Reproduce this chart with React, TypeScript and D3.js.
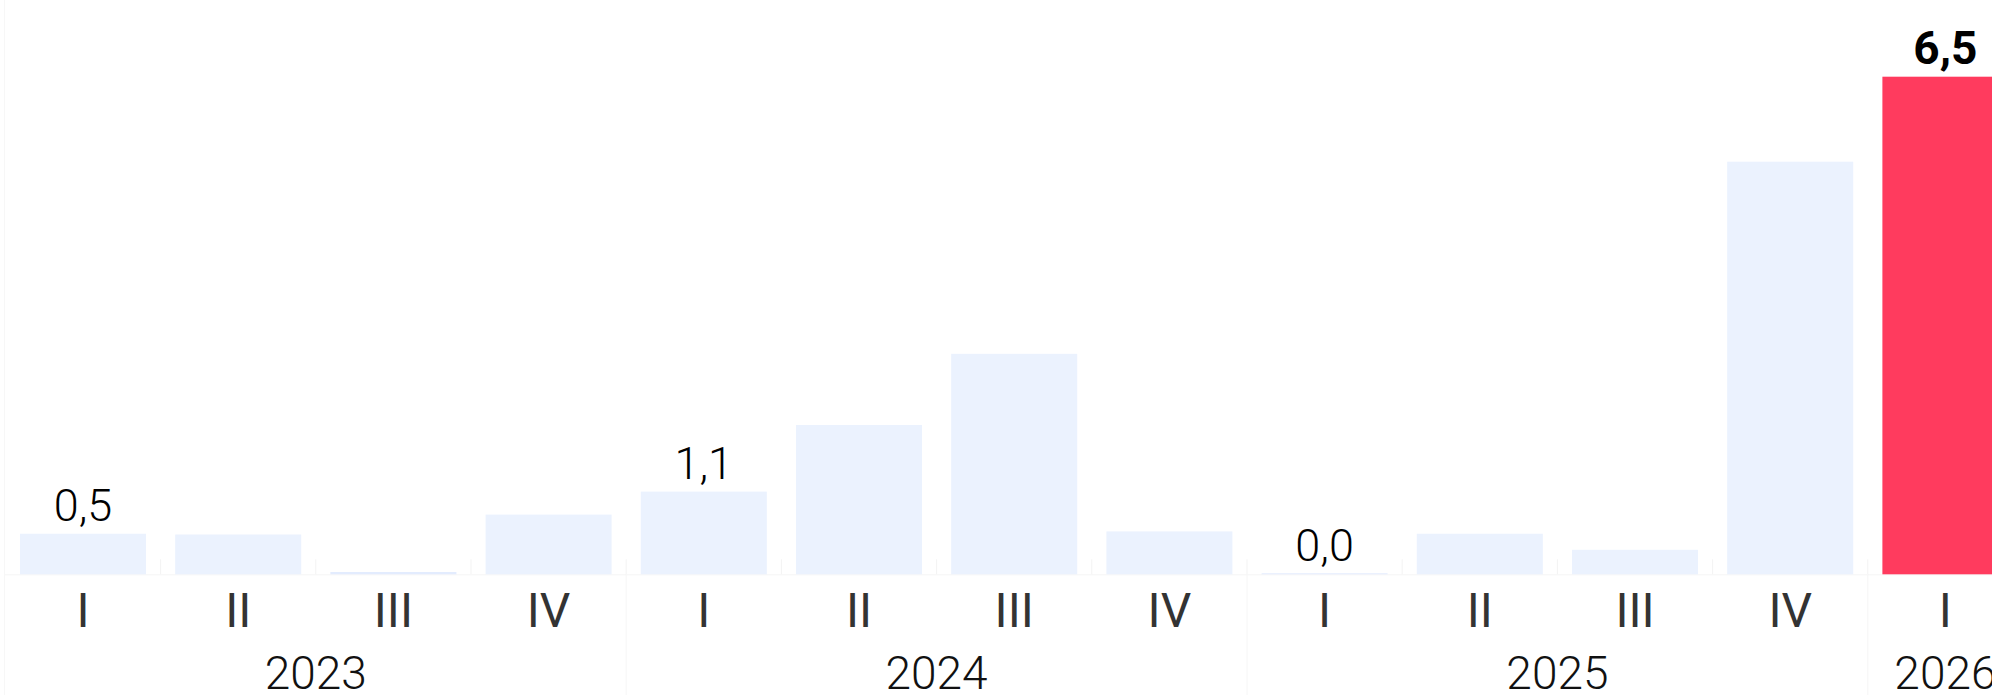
import { FC } from "react";
import * as d3 from "d3";

const WIDTH = 1992;
const HEIGHT = 695;

const years = ["2023", "2023", "2023", "2023", "2024", "2024", "2024", "2024", "2025", "2025", "2025", "2025", "2026"];
const quarters = ["I", "II", "III", "IV", "I", "II", "III", "IV", "I", "II", "III", "IV", "I"];
const values = [0.53, 0.52, 0.03, 0.78, 1.08, 1.95, 2.88, 0.56, 0.01, 0.53, 0.32, 5.39, 6.5];
const labelled = [true, false, false, false, true, false, false, false, true, false, false, false, true];

const BAR = "#ebf2fe";
const HIGHLIGHT = "#ff3b5e";
const FONT = "Roboto, sans-serif";
const LIGHT = "'Roboto Light', Roboto, sans-serif";

const App: FC = () => {
  const keys = values.map((_, i) => `${years[i]}-${quarters[i]}`);
  const last = values.length - 1;

  const x = d3
    .scaleBand<string>()
    .domain(keys)
    .range([5.4, 2023])
    .paddingInner(0.188)
    .paddingOuter(0.094);

  const y = d3
    .scaleLinear()
    .domain([0, d3.max(values)!])
    .range([574.3, 76.7]);

  const step = x.step();
  const half = (step - x.bandwidth()) / 2;
  const fmt = (v: number) => d3.format(".1f")(v).replace(".", ",");

  // year groups: first and last band of each year
  const groups = d3
    .groups(
      keys.map((k, i) => ({ k, year: years[i] })),
      (d) => d.year
    )
    .map(([year, items]) => {
      const x0 = x(items[0].k)! - half;
      const x1 = x(items[items.length - 1].k)! + x.bandwidth() + half;
      return { year, x0, x1 };
    });

  const base = y(0);

  return (
    <svg
      width={WIDTH}
      height={HEIGHT}
      style={{ position: "absolute", left: 0, top: 0, display: "block" }}
      fontFamily={FONT}
    >
      <rect width={WIDTH} height={HEIGHT} fill="#fff" />
      {/* faint frame */}
      <line x1={4.5} x2={4.5} y1={0} y2={HEIGHT} stroke="#f7f7f7" />
      <line x1={4.5} x2={WIDTH} y1={base + 0.5} y2={base + 0.5} stroke="#f5f5f5" />

      {/* small separators between bars */}
      {keys.slice(1).map((k) => {
        const sx = x(k)! - half;
        return <line key={`t-${k}`} x1={sx} x2={sx} y1={base - 15} y2={base} stroke="#f3f3f3" />;
      })}

      {/* year separators */}
      {groups.slice(1).map((g) => (
        <line key={`g-${g.year}`} x1={g.x0} x2={g.x0} y1={base} y2={HEIGHT} stroke="#f6f6f6" />
      ))}

      {values.map((v, i) => (
        <rect
          key={keys[i]}
          x={x(keys[i])}
          y={Math.min(y(v), base - 1)}
          width={x.bandwidth()}
          height={Math.max(base - y(v), 1)}
          fill={i === last ? HIGHLIGHT : v < 0.05 ? "#e3ecfe" : BAR}
        />
      ))}

      {values.map((v, i) =>
        labelled[i] ? (
          <text
            key={`v-${keys[i]}`}
            x={x(keys[i])! + x.bandwidth() / 2}
            y={y(v) - 13}
            textAnchor="middle"
            fontSize={i === last ? 46 : 45}
            fontFamily={i === last ? FONT : LIGHT}
            fontWeight={i === last ? 700 : 300}
            fill="#000"
          >
            {fmt(v)}
          </text>
        ) : null
      )}

      {quarters.map((q, i) => (
        <text
          key={`q-${keys[i]}`}
          x={x(keys[i])! + x.bandwidth() / 2}
          y={627}
          textAnchor="middle"
          fontSize={48}
          fontWeight={400}
          fill="#333"
        >
          {q}
        </text>
      ))}

      {groups.map((g) => (
        <text
          key={`y-${g.year}`}
          x={(g.x0 + g.x1) / 2}
          y={689}
          textAnchor="middle"
          fontSize={46}
          fontFamily={LIGHT}
          fontWeight={300}
          fill="#111"
        >
          {g.year}
        </text>
      ))}
    </svg>
  );
};

export default App;
